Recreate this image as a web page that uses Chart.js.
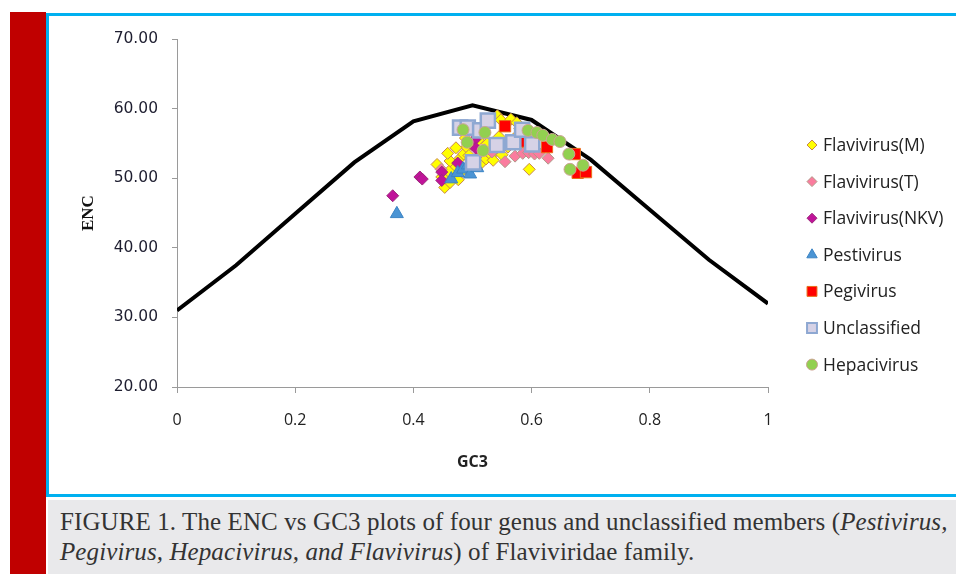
<!DOCTYPE html>
<html>
<head>
<meta charset="utf-8">
<script src="https://cdn.jsdelivr.net/npm/chart.js@4.4.0/dist/chart.umd.min.js"></script>
<style>
    body { margin: 0; width: 956px; height: 574px; background: #ffffff; position: relative; overflow: hidden; }
    #redbar { position: absolute; left: 10px; top: 12px; width: 36px; height: 562px; background: #c00000; }
    #frame { position: absolute; left: 46px; top: 13px; width: 910px; height: 484px; border-top: 3px solid #00b0f0; border-left: 3px solid #00b0f0; border-bottom: 3px solid #00b0f0; box-sizing: border-box; background: #ffffff; }
    #myChart { position: absolute; left: 49px; top: 16px; }
    #caption { position: absolute; left: 48px; top: 500px; width: 908px; height: 74px; background: #e9e9eb;
        font-family: "Liberation Serif", serif; font-size: 25px; letter-spacing: 0.1px; line-height: 30px; color: #333333; padding: 7px 0 0 12px; box-sizing: border-box; white-space: nowrap; }
</style>
</head>
<body>
<div id="redbar"></div>
<div id="frame"></div>
<canvas id="myChart" width="907" height="478"></canvas>
<div id="caption">FIGURE 1. The ENC vs GC3 plots of four genus and unclassified members (<i>Pestivirus,</i><br><i>Pegivirus, Hepacivirus, and Flavivirus</i>) of Flaviviridae family.</div>

<script>
// expected ENC curve (GC3, ENC)
const curveGC3 = [0, 0.1, 0.2, 0.3, 0.4, 0.5, 0.6, 0.7, 0.8, 0.9, 1];
const curveENC = [31.0, 37.5, 44.9, 52.3, 58.2, 60.5, 58.4, 52.7, 45.5, 38.3, 32.0];

// points [GC3, ENC]
const flavivirusM = [[0.453, 48.7], [0.462, 49.4], [0.468, 50.3], [0.47, 51.5], [0.478, 52.8], [0.485, 53.5],
    [0.49, 54.5], [0.494, 53.3], [0.462, 52.5], [0.458, 53.6], [0.5, 54.8], [0.508, 53.0], [0.515, 52.2],
    [0.523, 52.8], [0.53, 53.5], [0.54, 54.0], [0.528, 58.2], [0.542, 59.0], [0.548, 58.4], [0.565, 58.5],
    [0.575, 58.0], [0.58, 57.2], [0.596, 51.3], [0.56, 54.5], [0.57, 55.7], [0.545, 56.0], [0.51, 55.5],
    [0.52, 56.5], [0.46, 51.0], [0.448, 50.2], [0.476, 49.8], [0.482, 51.0], [0.498, 52.4], [0.535, 52.6],
    [0.55, 53.4], [0.488, 55.8], [0.505, 56.8], [0.525, 55.0], [0.44, 52.0], [0.472, 54.4]];
const flavivirusT = [[0.447, 51.3], [0.555, 52.4], [0.572, 53.2], [0.585, 53.6], [0.595, 53.7], [0.605, 53.5],
    [0.613, 53.6], [0.628, 52.9], [0.533, 53.8], [0.52, 54.1]];
const flavivirusNKV = [[0.365, 47.5], [0.411, 50.2], [0.415, 49.9], [0.448, 50.9], [0.448, 49.7], [0.475, 52.2],
    [0.504, 55.6], [0.506, 54.3]];
const pestivirus = [[0.372, 44.9], [0.464, 49.9], [0.475, 50.8], [0.484, 51.3], [0.492, 51.9], [0.496, 50.6],
    [0.508, 51.5]];
const pegivirus = [[0.555, 57.5], [0.585, 55.3], [0.626, 54.5], [0.673, 53.5], [0.678, 50.8], [0.692, 50.9]];
const unclassified = [[0.479, 57.3], [0.492, 57.3], [0.513, 56.9], [0.526, 58.3], [0.541, 54.8], [0.569, 55.2],
    [0.584, 57.0], [0.601, 54.9], [0.501, 52.3]];
const hepacivirus = [[0.484, 57.0], [0.521, 56.6], [0.491, 55.2], [0.518, 54.0], [0.594, 56.9], [0.609, 56.6],
    [0.619, 56.2], [0.635, 55.6], [0.648, 55.3], [0.663, 53.5], [0.665, 51.3], [0.687, 51.9]];

const xTickLabels = ['0', '0.2', '0.4', '0.6', '0.8', '1'];
const yTickLabels = ['20.00', '30.00', '40.00', '50.00', '60.00', '70.00'];

function toPoints(arr) {
    return arr.map(function (p) { return { x: p[0], y: p[1] }; });
}

const curvePoints = curveGC3.map(function (g, i) { return { x: g, y: curveENC[i] }; });

const datasets = [
    { label: 'Flavivirus(M)', data: toPoints(flavivirusM), pointStyle: 'rectRot', pointRadius: 6,
      backgroundColor: '#ffff00', borderColor: '#c8864a', borderWidth: 1, order: 7, legendRadius: 5 },
    { label: 'Flavivirus(T)', data: toPoints(flavivirusT), pointStyle: 'rectRot', pointRadius: 6,
      backgroundColor: '#fa7c9e', borderColor: '#b09a88', borderWidth: 1, order: 6, legendRadius: 5 },
    { label: 'Flavivirus(NKV)', data: toPoints(flavivirusNKV), pointStyle: 'rectRot', pointRadius: 6,
      backgroundColor: '#c0139a', borderColor: '#9c2a7a', borderWidth: 1, order: 5, legendRadius: 5 },
    { label: 'Pestivirus', data: toPoints(pestivirus), pointStyle: 'triangle', pointRadius: 7.5,
      backgroundColor: '#4a94d4', borderColor: '#3c84c4', borderWidth: 1, order: 4, legendRadius: 6 },
    { label: 'Pegivirus', data: toPoints(pegivirus), pointStyle: 'rect', pointRadius: 8,
      backgroundColor: '#ff0000', borderColor: '#e8701a', borderWidth: 1, order: 3, legendRadius: 7 },
    { label: 'Unclassified', data: toPoints(unclassified), pointStyle: 'rect', pointRadius: 10,
      backgroundColor: '#d6d2e6', borderColor: '#8ea8d2', borderWidth: 2.5, order: 2, legendRadius: 7 },
    { label: 'Hepacivirus', data: toPoints(hepacivirus), pointStyle: 'circle', pointRadius: 6,
      backgroundColor: '#92d050', borderColor: '#cca494', borderWidth: 1, order: 1, legendRadius: 5.5 },
    { label: 'curve', data: curvePoints, showLine: true, borderColor: '#000000', borderWidth: 4,
      pointRadius: 0, fill: false, order: 8, isCurve: true }
];

// legend drawn on the canvas at the right of the plot
const sideLegend = {
    id: 'sideLegend',
    afterDraw: function (chart) {
        const ctx = chart.ctx;
        const x0 = 812 - 49;
        const y0 = 145 - 16;
        const rowH = 36.6;
        ctx.save();
        ctx.font = '17.5px "Open Sans"';
        ctx.textBaseline = 'middle';
        ctx.textAlign = 'left';
        let row = 0;
        chart.data.datasets.forEach(function (ds) {
            if (ds.isCurve) return;
            const y = y0 + row * rowH;
            ctx.fillStyle = ds.backgroundColor;
            ctx.strokeStyle = ds.borderColor;
            ctx.lineWidth = ds.borderWidth > 1 ? 2 : 1;
            Chart.helpers.drawPoint(ctx, {
                pointStyle: ds.pointStyle, radius: ds.legendRadius, rotation: 0,
                borderWidth: ctx.lineWidth
            }, x0, y);
            ctx.fillStyle = '#222222';
            ctx.fillText(ds.label, x0 + 11, y + 1);
            row++;
        });
        ctx.restore();
    }
};

const config = {
    type: 'scatter',
    data: { datasets: datasets },
    options: {
        responsive: false,
        animation: false,
        devicePixelRatio: 1,
        layout: { padding: { left: 0, top: 20, right: 188, bottom: 0 } },
        plugins: { legend: { display: false }, tooltip: { enabled: false } },
        scales: {
            x: {
                type: 'linear', min: 0, max: 1,
                afterFit: function (scale) { scale.height = 107; },
                afterBuildTicks: function (scale) {
                    scale.ticks = xTickLabels.map(function (t) { return { value: parseFloat(t) }; });
                },
                ticks: {
                    padding: 18, color: '#222222', font: { family: '"Open Sans"', size: 16 },
                    callback: function (v, i) { return xTickLabels[i]; }
                },
                grid: { drawOnChartArea: false, drawTicks: true, tickLength: 6, color: '#9a9a9a', lineWidth: 1 },
                border: { display: true, color: '#9a9a9a', width: 1 },
                title: { display: true, text: 'GC3', color: '#222222', padding: { top: 0, bottom: 22 },
                    font: { family: '"Open Sans"', size: 16, weight: 'bold' } }
            },
            y: {
                type: 'linear', min: 20, max: 70,
                afterFit: function (scale) { scale.width = 128; },
                afterBuildTicks: function (scale) {
                    scale.ticks = yTickLabels.map(function (t) { return { value: parseFloat(t) }; });
                },
                ticks: {
                    padding: 14, color: '#1e1e30', font: { family: '"DejaVu Sans"', size: 15.5 },
                    callback: function (v, i) { return yTickLabels[i]; }
                },
                grid: { drawOnChartArea: false, drawTicks: true, tickLength: 5, color: '#9a9a9a', lineWidth: 1 },
                border: { display: true, color: '#9a9a9a', width: 1 },
                title: { display: true, text: 'ENC', color: '#111111', padding: { top: 29, bottom: 0 },
                    font: { family: '"Liberation Serif"', size: 17, weight: 'bold' } }
            }
        }
    },
    plugins: [sideLegend]
};

const myChart = new Chart(document.getElementById('myChart'), config);
</script>
</body>
</html>
